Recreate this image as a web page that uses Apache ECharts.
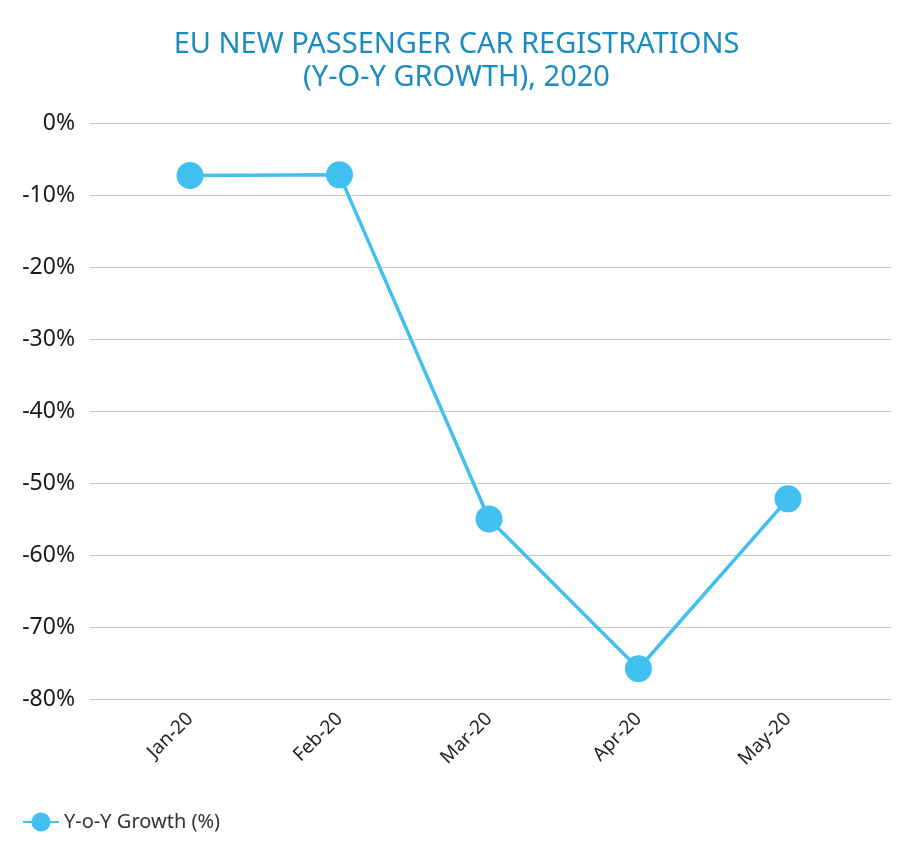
<!DOCTYPE html>
<html>
<head>
<meta charset="utf-8">
<script src="https://cdn.jsdelivr.net/npm/echarts@6/dist/echarts.min.js"></script>
<style>html,body{margin:0;padding:0;background:#fff}#c{width:913px;height:852px}</style>
</head>
<body>
<div id="c"></div>
<script>
var categories = ['Jan-20', 'Feb-20', 'Mar-20', 'Apr-20', 'May-20'];
var growth = [-7.3, -7.2, -55.0, -75.8, -52.2];
var seriesName = 'Y-o-Y Growth (%)';
var titleText = 'EU NEW PASSENGER CAR REGISTRATIONS\n(Y-O-Y GROWTH), 2020';

var chart = echarts.init(document.getElementById('c'), null, {renderer: 'canvas'});
chart.setOption({
  animation: false,
  backgroundColor: '#ffffff',
  title: {
    text: titleText,
    left: 'center',
    top: 23,
    textStyle: {
      color: '#1a8cbf',
      fontFamily: 'Noto Sans',
      fontWeight: 'normal',
      fontSize: 29,
      lineHeight: 33
    }
  },
  legend: {
    left: 17,
    top: 807,
    itemWidth: 36,
    itemHeight: 24,
    itemGap: 10,
    data: [seriesName],
    textStyle: {color: '#333333', fontFamily: 'Noto Sans', fontSize: 20}
  },
  grid: [
    {left: 90, right: 21, top: 123, bottom: 153},
    {left: 115.25, right: 50.25, top: 123, bottom: 153}
  ],
  xAxis: [
    {gridIndex: 0, type: 'category', data: categories, show: false},
    {
      gridIndex: 1, type: 'category', data: categories, boundaryGap: true,
      axisLine: {show: false}, axisTick: {show: false},
      axisLabel: {rotate: 45, margin: 17, color: '#222222', fontFamily: 'Noto Sans', fontSize: 19}
    }
  ],
  yAxis: [
    {
      gridIndex: 0, type: 'value', min: -80, max: 0, interval: 10,
      axisLine: {show: false}, axisTick: {show: false},
      axisLabel: {formatter: '{value}%', margin: 15, color: '#1a1a1a', fontFamily: 'Noto Sans', fontSize: 23},
      splitLine: {lineStyle: {color: '#c8c8c8', width: 1}}
    },
    {
      gridIndex: 1, type: 'value', min: -80, max: 0, interval: 10, show: false,
      splitLine: {show: false}
    }
  ],
  series: [{
    name: seriesName,
    type: 'line',
    xAxisIndex: 1,
    yAxisIndex: 1,
    data: growth,
    symbol: 'circle',
    symbolSize: 27,
    lineStyle: {color: '#41c0f0', width: 3.5},
    itemStyle: {color: '#41c0f0'}
  }]
});
</script>
</body>
</html>
